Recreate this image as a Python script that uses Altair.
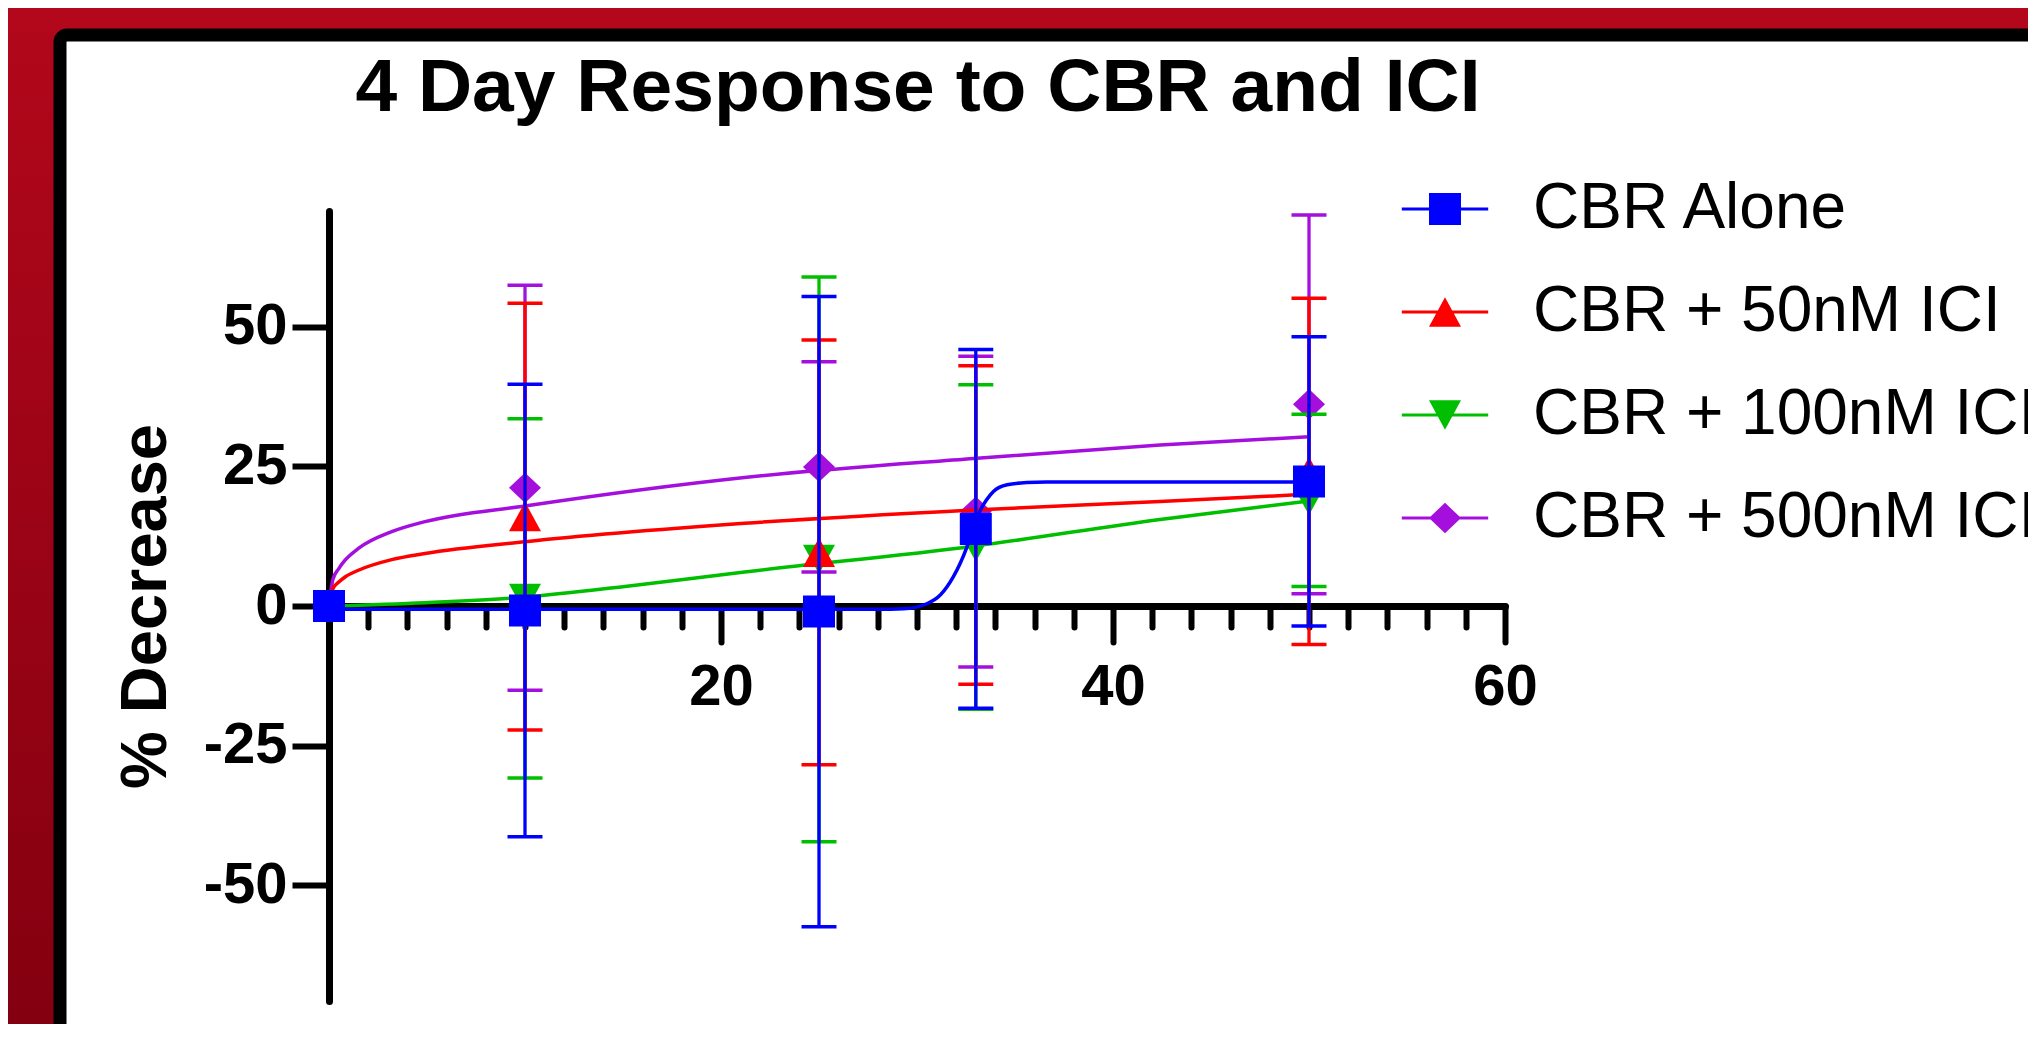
import altair as alt
import pandas as pd

FONT = "Liberation Sans"

# ---------------- data ----------------
series = ["CBR Alone", "CBR + 50nM ICI", "CBR + 100nM ICI", "CBR + 500nM ICI"]
colors = ["#0000FF", "#FF0000", "#00BE00", "#A50FDD"]
doses = [0, 10, 25, 33, 50]

mean_alone = [0, -0.8, -1.0, 13.8, 22.3]
err_alone = [0, 40.5, 56.4, 32.1, 25.9]
mean_50 = [0, 16.0, 9.6, 14.5, 24.1]
err_50 = [0, 38.2, 38.0, 28.5, 31.0]
mean_100 = [0, 1.35, 8.35, 10.55, 18.9]
err_100 = [0, 32.15, 50.55, 29.05, 15.4]
mean_500 = [0, 21.15, 24.9, 16.9, 36.1]
err_500 = [0, 36.25, 18.8, 27.8, 33.9]

# fitted curves
fit_alone_x = [0, 10, 20, 28, 29.3, 30.5, 31.2, 31.85, 32.2, 32.55, 32.9, 33.2, 33.55, 33.9, 34.6, 35.6, 36.6, 50]
fit_alone_y = [-0.6, -0.6, -0.6, -0.6, -0.5, 0.4, 2.0, 5.2, 7.6, 10.6, 14.2, 16.9, 19.0, 20.5, 21.7, 22.1, 22.2, 22.2]
fit_50_x = [0, 0.2, 0.5, 0.82, 1.5, 3.2, 4.9, 10, 21.2, 32.9, 42.4, 50]
fit_50_y = [0, 3.1, 4.3, 5.2, 6.4, 8.3, 9.4, 11.5, 14.8, 17.2, 18.7, 20.0]
fit_100_x = [0, 4.9, 10, 15.1, 21.2, 32.9, 42.4, 50]
fit_100_y = [0, 0.6, 1.6, 3.5, 6.1, 10.7, 15.5, 18.8]
fit_500_x = [0, 0.2, 0.5, 0.82, 1.5, 3.2, 4.9, 10, 21.2, 32.9, 42.4, 50]
fit_500_y = [0, 4.8, 6.7, 8.2, 10.3, 13.3, 15.1, 17.9, 23.0, 26.4, 28.8, 30.3]

y_ticks = [-50, -25, 0, 25, 50]
x_ticks = list(range(2, 61, 2))

# ---------------- tables ----------------
means = [mean_alone, mean_50, mean_100, mean_500]
errs = [err_alone, err_50, err_100, err_500]
fits = [(fit_alone_x, fit_alone_y), (fit_50_x, fit_50_y), (fit_100_x, fit_100_y), (fit_500_x, fit_500_y)]

rows = []
for s, m, e in zip(series, means, errs):
    for d, mv, ev in zip(doses, m, e):
        rows.append({"series": s, "dose": d, "mean": mv, "err": ev, "lo": mv - ev, "hi": mv + ev})
pts = pd.DataFrame(rows)

crow = []
for s, (fx, fy) in zip(series, fits):
    for a, b in zip(fx, fy):
        crow.append({"series": s, "x": a, "y": b})
curves = pd.DataFrame(crow)

# marker shapes (unit path, scaled by sqrt(size)/2)
marker_paths = [
    "M-1,-1H1V1H-1Z",
    "M0,-0.92L1,0.92L-1,0.92Z",
    "M-1,-0.92L1,-0.92L0,0.92Z",
    "M0,-0.95L1,0L0,0.95L-1,0Z",
]
line_path = "M-2.7,-0.1H2.7V0.1H-2.7Z"
legend_paths = [line_path + p for p in marker_paths]

# ---------------- scales & axes ----------------
xscale = alt.Scale(domain=[0, 60], nice=False, zero=False)
yscale = alt.Scale(domain=[-70.7, 70.7], nice=False, zero=False)

xaxis = alt.Axis(
    values=x_ticks, offset=-395, title=None, grid=False,
    domainColor="black", domainWidth=7, domainCap="round",
    tickColor="black", tickWidth=6, tickCap="round",
    tickSize={"condition": {"test": "datum.value % 20 === 0", "value": 36}, "value": 21},
    labelExpr="datum.value % 20 === 0 ? datum.label : ''",
    labelFont=FONT, labelFontSize=58, labelFontWeight="bold", labelColor="black",
    labelPadding=16, labelFlush=False, labelOverlap=False,
)
yaxis = alt.Axis(
    values=y_ticks, title="% Decrease", grid=False,
    domainColor="black", domainWidth=7, domainCap="round",
    tickColor="black", tickWidth=6, tickSize=37,
    labelExpr="'' + datum.value",
    labelFont=FONT, labelFontSize=58, labelFontWeight="bold", labelColor="black",
    labelPadding=5, labelFlush=False, labelOverlap=False,
    titleFont=FONT, titleFontSize=65, titleFontWeight="bold", titleColor="black",
    titleAngle=270, titleAlign="center", titleBaseline="middle",
    titleX=-184, titleY=395,
)


def X(f):
    return alt.X(f, type="quantitative", scale=xscale, axis=xaxis)


def Y(f):
    return alt.Y(f, type="quantitative", scale=yscale, axis=yaxis)


one = pd.DataFrame({"k": [0]})

# ---------------- decorations ----------------
bg_left = alt.Chart(one).mark_rect(
    color=alt.Gradient(
        gradient="linear",
        stops=[alt.GradientStop(color="#B3071B", offset=0), alt.GradientStop(color="#830010", offset=1)],
        x1=0, x2=0, y1=0, y2=1,
    )
).encode(x=alt.value(-330), x2=alt.value(-270), y=alt.value(-215), y2=alt.value(830))

bg_top = alt.Chart(one).mark_rect(color="#B3071B").encode(
    x=alt.value(-330), x2=alt.value(1800), y=alt.value(-215), y2=alt.value(-180)
)

frame = alt.Chart(one).mark_rect(
    fillOpacity=0, stroke="black", strokeWidth=13, cornerRadius=7
).encode(x=alt.value(-269), x2=alt.value(1900), y=alt.value(-176), y2=alt.value(1000))

title = alt.Chart(one).mark_text(
    text="4 Day Response to CBR and ICI", font=FONT, fontSize=75, fontWeight="bold",
    color="black", align="center", baseline="alphabetic",
).encode(x=alt.value(589), y=alt.value(-100))

layers = [bg_left, bg_top, frame, title]

# ---------------- data layers, drawn purple, green, red, blue ----------------
for i in [3, 2, 1, 0]:
    name, col, path = series[i], colors[i], marker_paths[i]
    p = alt.Chart(pts).transform_filter(alt.datum.series == name)
    c = alt.Chart(curves).transform_filter(alt.datum.series == name)
    eb = p.transform_filter(alt.datum.err > 0)
    layers.append(c.mark_line(color=col, strokeWidth=3.5, interpolate="monotone").encode(x=X("x"), y=Y("y")))
    layers.append(eb.mark_rule(color=col, strokeWidth=3.3).encode(x=X("dose"), y=Y("lo"), y2="hi:Q"))
    layers.append(eb.mark_tick(color=col, orient="horizontal", size=35, thickness=3.5, opacity=1).encode(x=X("dose"), y=Y("lo")))
    layers.append(eb.mark_tick(color=col, orient="horizontal", size=35, thickness=3.5, opacity=1).encode(x=X("dose"), y=Y("hi")))
    layers.append(p.mark_point(shape=path, filled=True, size=1024, color=col, opacity=1, strokeWidth=0).encode(x=X("dose"), y=Y("mean")))

# ---------------- legend ----------------
leg = alt.Legend(
    orient="none", legendX=1084, legendY=-34, title=None, padding=0,
    direction="vertical", labelFont=FONT, labelFontSize=64, labelColor="black",
    labelLimit=3000, labelOffset=56, rowPadding=39, symbolSize=1024,
    symbolStrokeWidth=0, symbolOpacity=1, labelBaseline="middle",
)
legend_layer = alt.Chart(pd.DataFrame({"series": series})).mark_point(
    filled=True, size=1024, opacity=1, strokeWidth=0
).encode(
    x=alt.value(-3000), y=alt.value(-3000),
    color=alt.Color("series:N", scale=alt.Scale(domain=series, range=colors), legend=leg),
    shape=alt.Shape("series:N", scale=alt.Scale(domain=series, range=legend_paths), legend=leg),
)
layers.append(legend_layer)

chart = alt.layer(*layers).properties(
    width=1176, height=790,
    autosize=alt.AutoSizeParams(type="none"),
    padding={"left": 321, "top": 203, "right": 523, "bottom": 23},
).configure(background="white", font=FONT).configure_view(strokeWidth=0)

chart.save("out.html", embed_options={"renderer": "svg", "actions": False})
